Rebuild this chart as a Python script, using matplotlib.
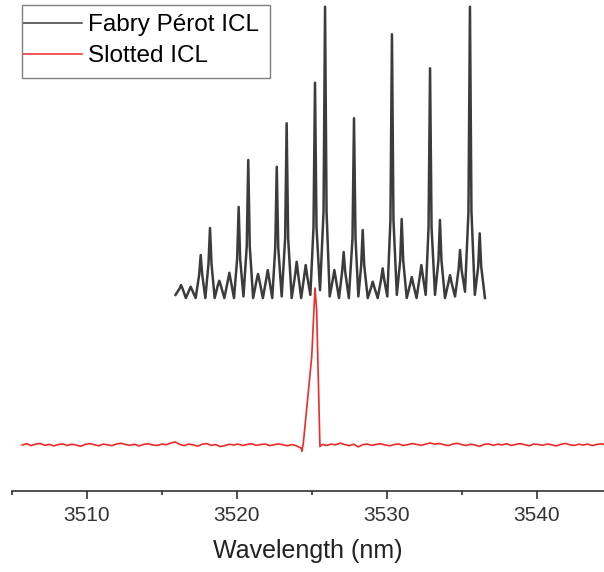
import numpy as np
import matplotlib
matplotlib.use("Agg")
from matplotlib import pyplot as plt
from matplotlib.patches import Rectangle
from matplotlib.ticker import MultipleLocator

# Fabry Perot ICL modes (a.u., floor = 0)
fp_start = (3515.92, 0.020)
fp_end = (3536.55, 0.000)
fp_peak_wl = [3516.29, 3516.93, 3517.60, 3518.22, 3518.84, 3519.51, 3520.13, 3520.77,
              3521.42, 3522.07, 3522.67, 3523.33, 3524.00, 3524.60, 3525.22, 3525.89,
              3526.51, 3527.13, 3527.82, 3528.40, 3529.07, 3529.73, 3530.35, 3531.00,
              3531.67, 3532.31, 3532.89, 3533.55, 3534.22, 3534.89, 3535.55, 3536.20]
fp_peak = [0.083, 0.072, 0.274, 0.446, 0.110, 0.161, 0.580, 0.879,
           0.153, 0.178, 0.836, 1.113, 0.231, 0.210, 1.371, 1.855,
           0.178, 0.293, 1.145, 0.433, 0.104, 0.189, 1.680, 0.503,
           0.134, 0.210, 1.463, 0.497, 0.146, 0.306, 1.855, 0.412]
# level of each mode about 0.1 nm either side of its top
fp_shoulder = [0.060, 0.050, 0.150, 0.220, 0.080, 0.110, 0.250, 0.330,
               0.110, 0.120, 0.320, 0.380, 0.150, 0.140, 0.450, 0.550,
               0.120, 0.170, 0.380, 0.210, 0.070, 0.120, 0.500, 0.240,
               0.090, 0.140, 0.450, 0.240, 0.100, 0.180, 0.550, 0.200]
# floor between neighbouring modes
fp_trough = [0.000, 0.000, 0.000, 0.000, 0.000, 0.000, 0.010, 0.000,
             0.000, 0.000, 0.010, 0.000, 0.000, 0.020, 0.050, 0.010,
             0.000, 0.000, 0.010, 0.000, 0.000, 0.010, 0.020, 0.000,
             0.000, 0.020, 0.020, 0.000, 0.010, 0.040, 0.020]

# Slotted ICL: noisy floor either side of a single mode
slot_left = [0.000, 0.008, -0.004, 0.006, 0.010, -0.002, 0.004, -0.006, 0.003, 0.007,
             -0.003, 0.005, 0.000, -0.008, 0.004, 0.009, 0.002, -0.005, 0.006, 0.001,
             -0.004, 0.007, 0.011, 0.003, -0.002, 0.005, -0.006, 0.004, 0.008, 0.000,
             -0.003, 0.006, 0.002, 0.012, 0.020, 0.004, -0.004, 0.006, 0.001, -0.007,
             0.005, 0.009, -0.002, 0.003, -0.010, -0.004, 0.005, 0.000, 0.006, -0.003,
             0.004, 0.008, -0.002, 0.003, 0.006, -0.004, 0.002, 0.007, 0.001, -0.005,
             0.003, -0.006]
slot_peak_wl = [3524.30, 3524.35, 3524.44, 3525.00, 3525.22, 3525.33, 3525.44, 3525.55]
slot_peak_int = [-0.020, -0.040, 0.010, 0.560, 1.000, 0.860, 0.410, -0.010]
slot_right = [0.004, -0.003, 0.006, 0.001, 0.012, 0.003, -0.004, 0.005, -0.012, 0.002,
              0.006, -0.002, 0.004, 0.008, 0.000, -0.005, 0.003, 0.007, -0.003, 0.002,
              0.009, 0.004, -0.002, 0.006, 0.013, 0.005, 0.010, 0.002, -0.004, 0.006,
              0.011, 0.003, -0.003, 0.005, 0.000, -0.009, 0.004, 0.007, -0.002, 0.005,
              0.001, 0.008, -0.003, 0.004, 0.009, 0.002, -0.005, 0.006, 0.003, -0.002,
              0.007, 0.001, -0.006, 0.004, 0.010, 0.002, -0.003, 0.005, 0.000, 0.006,
              -0.004, 0.003, 0.008, 0.001]

FP_OFFSET = 0.936
HALF = 0.1  # nm, mode half-width used for the shoulder points


def fp_trace():
    xs, ys = [fp_start[0]], [fp_start[1]]
    for i, (w, p, s) in enumerate(zip(fp_peak_wl, fp_peak, fp_shoulder)):
        xs += [w - HALF, w, w + HALF]
        ys += [s, p, s]
        if i < len(fp_trough):
            xs.append((w + fp_peak_wl[i + 1]) / 2)
            ys.append(fp_trough[i])
    xs.append(fp_end[0])
    ys.append(fp_end[1])
    return np.array(xs), np.array(ys)


fp_wl, fp_int = fp_trace()

left_wl = np.linspace(3505.7, 3505.7 + 0.3 * (len(slot_left) - 1), len(slot_left))
right_wl = np.linspace(3525.7, 3525.7 + 0.3 * (len(slot_right) - 1), len(slot_right))
slot_wl = np.concatenate([left_wl, slot_peak_wl, right_wl])
slot_int = np.concatenate([slot_left, slot_peak_int, slot_right])

plt.rcParams["font.family"] = ["Liberation Sans", "DejaVu Sans"]

fig = plt.figure(figsize=(6.04, 5.72), dpi=100)
ax = fig.add_axes([11.7 / 604, 81.3 / 572, 592.5 / 604, 490.7 / 572])

ax.plot(fp_wl, fp_int + FP_OFFSET, color="#3c3c3c", lw=1.8,
        label="Fabry Pérot ICL")
ax.plot(slot_wl, slot_int, color="#ee2a2a", lw=1.2, label="Slotted ICL")

ax.set_xlim(3505, 3544.5)
ax.set_ylim(-0.291, 2.834)

for side in ("left", "right", "top"):
    ax.spines[side].set_visible(False)
ax.spines["bottom"].set_linewidth(1.1)
ax.spines["bottom"].set_color("#222222")
ax.set_yticks([])
ax.xaxis.set_major_locator(MultipleLocator(10))
ax.xaxis.set_minor_locator(MultipleLocator(5))
ax.tick_params(axis="x", which="major", length=5.8, width=1.1, color="#222222",
               pad=5.5, labelsize=15, labelcolor="#333333")
ax.tick_params(axis="x", which="minor", length=3, width=1.1, color="#222222")
ax.set_xlabel("Wavelength (nm)", fontsize=18, color="#222222", labelpad=9.5)

# legend box drawn separately so the handles can sit against its left edge
fig.patches.append(Rectangle((22 / 604, 1 - 78 / 572), 248 / 604, 73 / 572,
                             transform=fig.transFigure, fill=False,
                             edgecolor="#808080", lw=1.0))
leg = ax.legend(loc="upper left", bbox_to_anchor=(23 / 604, 1 - 14 / 572),
                bbox_transform=fig.transFigure, fontsize=17.5, frameon=False,
                handlelength=2.43, handletextpad=0.25, borderpad=0,
                labelspacing=0.37, borderaxespad=0)
for line in leg.get_lines():
    line.set_linewidth(1.1)

fig.savefig("out.png", dpi=100)
